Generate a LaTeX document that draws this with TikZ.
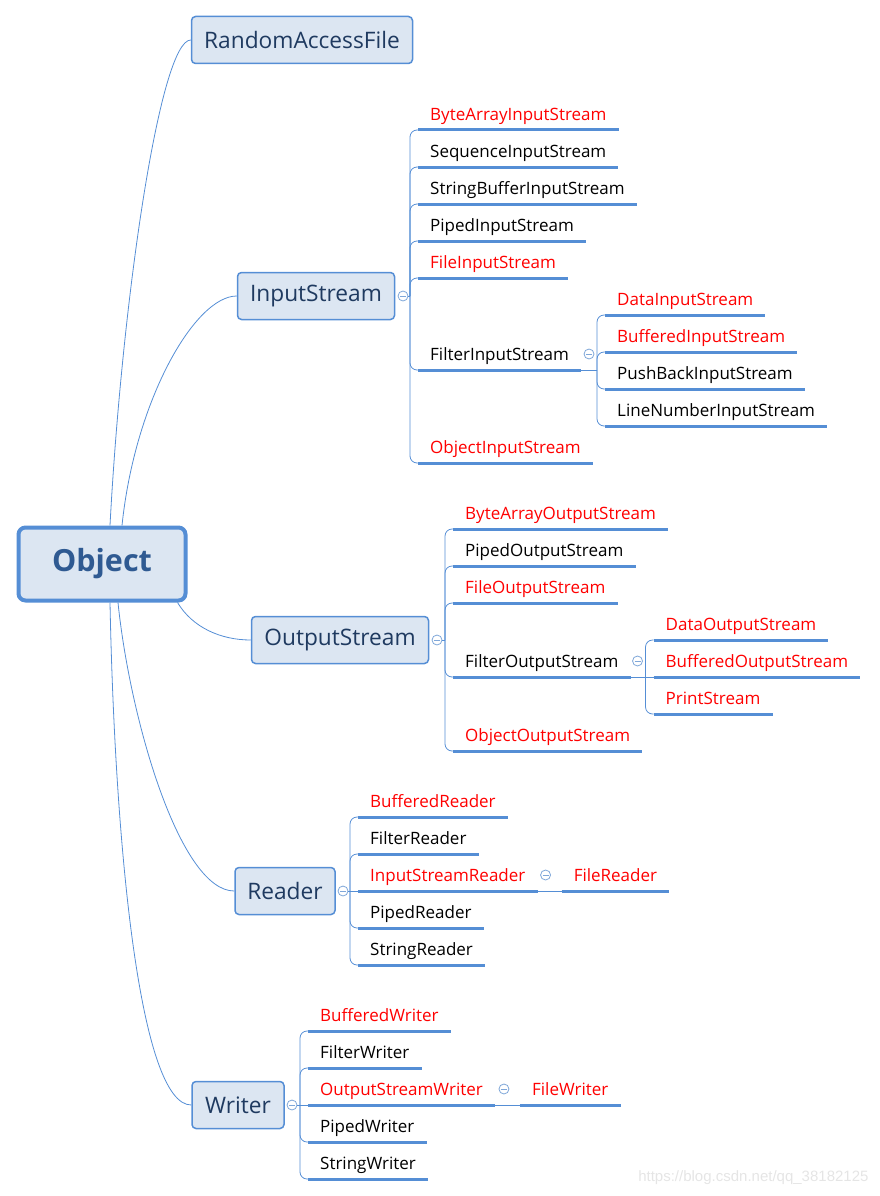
\documentclass[tikz,border=0pt]{standalone}
\usepackage{fontspec}
\setmainfont{Open Sans}
\newfontfamily\markfont{Liberation Sans}
\usepackage{tikz}
\usetikzlibrary{positioning,calc}
\definecolor{mapblue}{HTML}{558ED5}
\definecolor{boxfill}{HTML}{DCE6F2}
\definecolor{boxtext}{HTML}{1F3A60}
\definecolor{roottext}{HTML}{2F5A92}
\definecolor{foldblue}{HTML}{7FA7D9}

\begin{document}
\begin{tikzpicture}[
    x=1pt, y=-1pt,
    root/.style={rectangle, draw=mapblue, line width=4pt, fill=boxfill, rounded corners=7pt, minimum width=167pt, minimum height=73pt, font=\fontsize{30.5}{34}\selectfont\bfseries, text=roottext},
    box/.style={rectangle, draw=mapblue, line width=1.5pt, fill=boxfill, rounded corners=4pt, minimum height=47pt, font=\fontsize{22.7}{26}\selectfont, text=boxtext},
    uline/.style={draw=mapblue, line width=3pt},
    leaf/.style={anchor=south west, inner xsep=12pt, inner ysep=5pt, text height=12pt, text depth=4pt, font=\fontsize{17}{20}\selectfont,
        append after command={\pgfextra{\let\leafnode\tikzlastnode} (\leafnode.south west) edge[uline] (\leafnode.south east)}},
    hot/.style={leaf, text=red},
    link/.style={draw=mapblue, line width=0.8pt},
    branch/.style={link, rounded corners=7pt},
    fold/.style={circle, draw=foldblue, fill=white, line width=0.8pt, inner sep=0pt, minimum size=10pt,
        path picture={\draw[foldblue, line width=0.8pt] ([xshift=-3pt]path picture bounding box.center) -- ([xshift=3pt]path picture bounding box.center);}}
]
    \useasboundingbox (0,0) rectangle (880,1196);

    % Root
    \node[root] (obj) at (102,564) {Object};

    % First level
    \node[box, minimum width=221pt] (raf) at (302,40) {RandomAccessFile};
    \node[box, minimum width=157pt] (ins) at (316,296) {InputStream};
    \node[box, minimum width=177pt] (outs) at (340,640) {OutputStream};
    \node[box, minimum width=100pt] (rdr) at (285,891) {Reader};
    \node[box, minimum width=92pt] (wtr) at (238,1105) {Writer};

    \draw[link] ([xshift=8pt]obj.north) .. controls (122,300) and (160,40) .. (raf.west);
    \draw[link] ([xshift=20pt]obj.north) .. controls (135,400) and (195,296) .. (ins.west);
    \draw[link] ([xshift=-10pt]obj.south east) .. controls +(15,25) and +(-30,0) .. (outs.west);
    \draw[link] ([xshift=16pt]obj.south) .. controls (130,720) and (180,891) .. (rdr.west);
    \draw[link] ([xshift=8pt]obj.south) .. controls (115,850) and (140,1105) .. (wtr.west);

    % InputStream
    \node[fold] (insfold) at (403,296) {};
    \coordinate (insb) at (410,296);
    \node[hot] (bais) at (418,130) {ByteArrayInputStream};
    \node[leaf] (sis) at (418,167) {SequenceInputStream};
    \node[leaf] (sbis) at (418,204) {StringBufferInputStream};
    \node[leaf] (pis) at (418,241) {PipedInputStream};
    \node[hot] (fis) at (418,278) {FileInputStream};
    \node[leaf] (filis) at (418,370) {FilterInputStream};
    \node[hot] (ois) at (418,463) {ObjectInputStream};
    \draw[link] (insfold.east) -- (insb);
    \foreach \c in {bais,sis,sbis,pis,fis,filis,ois}
        \draw[branch] (insb) |- (\c.south west);

    % FilterInputStream
    \node[fold] (filisfold) at ($(filis.south east)+(8,-16)$) {};
    \coordinate (filisb) at ($(filis.south east)+(16,0)$);
    \node[hot] (dis) at ($(filis.south east)+(24,-55)$) {DataInputStream};
    \node[hot] (bis) at ($(filis.south east)+(24,-18)$) {BufferedInputStream};
    \node[leaf] (pbis) at ($(filis.south east)+(24,19)$) {PushBackInputStream};
    \node[leaf] (lnis) at ($(filis.south east)+(24,56)$) {LineNumberInputStream};
    \draw[link] (filis.south east) -- (filisb);
    \foreach \c in {dis,bis,pbis,lnis}
        \draw[branch] (filisb) |- (\c.south west);

    % OutputStream
    \node[fold] (outsfold) at (437,640) {};
    \coordinate (outsb) at (445,640);
    \node[hot] (baos) at (453,529) {ByteArrayOutputStream};
    \node[leaf] (pos) at (453,566) {PipedOutputStream};
    \node[hot] (fos) at (453,603) {FileOutputStream};
    \node[leaf] (filos) at (453,677) {FilterOutputStream};
    \node[hot] (oos) at (453,751) {ObjectOutputStream};
    \draw[link] (outsfold.east) -- (outsb);
    \foreach \c in {baos,pos,fos,filos,oos}
        \draw[branch] (outsb) |- (\c.south west);

    % FilterOutputStream
    \node[fold] (filosfold) at ($(filos.south east)+(7,-16)$) {};
    \coordinate (filosb) at ($(filos.south east)+(15,0)$);
    \node[hot] (dos) at ($(filos.south east)+(23,-37)$) {DataOutputStream};
    \node[hot] (bos) at ($(filos.south east)+(23,0)$) {BufferedOutputStream};
    \node[hot] (ps) at ($(filos.south east)+(23,37)$) {PrintStream};
    \draw[link] (filos.south east) -- (bos.south west);
    \draw[branch] (filosb) |- (dos.south west);
    \draw[branch] (filosb) |- (ps.south west);

    % Reader
    \node[fold] (rdrfold) at (343,891) {};
    \coordinate (rdrb) at (350,891);
    \node[hot] (brd) at (358,817) {BufferedReader};
    \node[leaf] (frd) at (358,854) {FilterReader};
    \node[hot] (isr) at (358,891) {InputStreamReader};
    \node[leaf] (prd) at (358,928) {PipedReader};
    \node[leaf] (srd) at (358,965) {StringReader};
    \draw[link] (rdrfold.east) -- (isr.south west);
    \foreach \c in {brd,frd,prd,srd}
        \draw[branch] (rdrb) |- (\c.south west);

    % InputStreamReader
    \node[fold] (isrfold) at ($(isr.south east)+(8,-16)$) {};
    \node[hot] (flrd) at ($(isr.south east)+(24,0)$) {FileReader};
    \draw[link] (isr.south east) -- (flrd.south west);

    % Writer
    \node[fold] (wtrfold) at (292,1105) {};
    \coordinate (wtrb) at (300,1105);
    \node[hot] (bwr) at (308,1031) {BufferedWriter};
    \node[leaf] (fwr) at (308,1068) {FilterWriter};
    \node[hot] (osw) at (308,1105) {OutputStreamWriter};
    \node[leaf] (pwr) at (308,1142) {PipedWriter};
    \node[leaf] (swr) at (308,1179) {StringWriter};
    \draw[link] (wtrfold.east) -- (osw.south west);
    \foreach \c in {bwr,fwr,pwr,swr}
        \draw[branch] (wtrb) |- (\c.south west);

    % OutputStreamWriter
    \node[fold] (oswfold) at ($(osw.south east)+(9,-16)$) {};
    \node[hot] (flwr) at ($(osw.south east)+(25,0)$) {FileWriter};
    \draw[link] (osw.south east) -- (flwr.south west);

    % Watermark
    \node[anchor=east, font=\markfont\fontsize{15}{18}\selectfont, text=black!10] (mark) at (872,1178) {https://blog.csdn.net/qq\_38182125};
\end{tikzpicture}
\end{document}
